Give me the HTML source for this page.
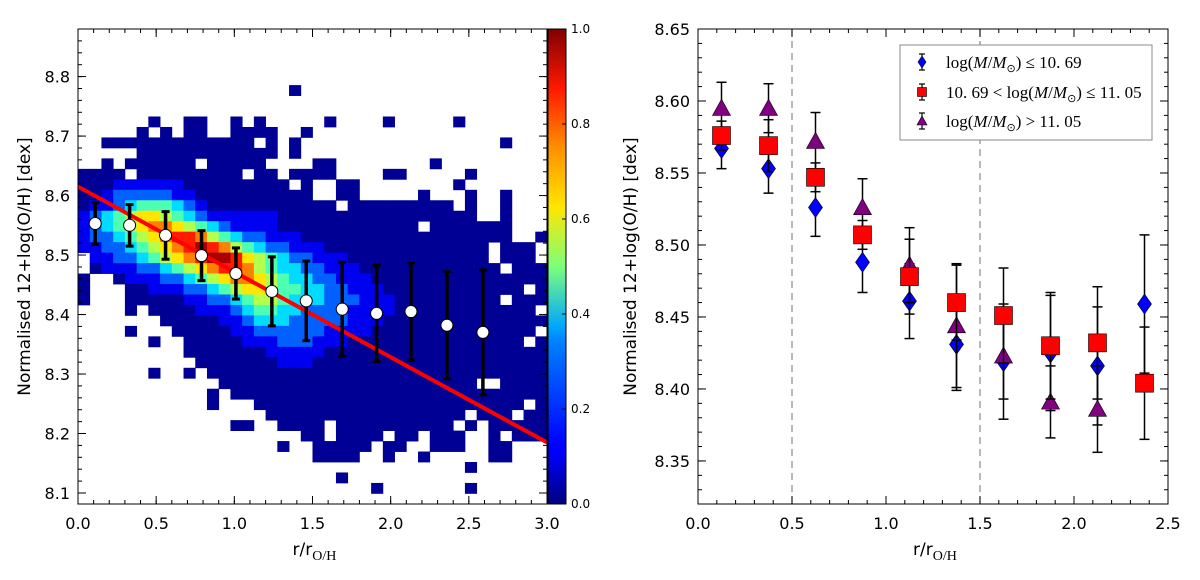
<!DOCTYPE html>
<html><head><meta charset="utf-8">
<style>
html,body{margin:0;padding:0;background:#fff;}
svg{display:block;font-family:"DejaVu Sans","Liberation Sans",sans-serif;}
</style></head>
<body>
<svg id="fig" width="1200" height="580" viewBox="0 0 1200 580" xmlns="http://www.w3.org/2000/svg">
<defs>
<clipPath id="lclip"><rect x="78" y="29" width="469" height="475"/></clipPath>
<clipPath id="rclip"><rect x="698" y="29" width="470" height="475"/></clipPath>
<linearGradient id="jet" x1="0" y1="1" x2="0" y2="0">
<stop offset="0" stop-color="#000080"/><stop offset="0.11" stop-color="#0000ff"/>
<stop offset="0.125" stop-color="#0000ff"/><stop offset="0.34" stop-color="#0080ff"/>
<stop offset="0.375" stop-color="#00a8ff"/><stop offset="0.5" stop-color="#7dff7a"/>
<stop offset="0.625" stop-color="#ffe600"/><stop offset="0.75" stop-color="#ff9000"/>
<stop offset="0.875" stop-color="#ff1800"/><stop offset="1" stop-color="#800000"/>
</linearGradient>
</defs>
<rect x="0" y="0" width="1200" height="580" fill="#fff"/>
<g id="left"></g>
<g id="cbar"></g>
<g id="right"></g>
</svg>
<script>
// ---------- LEFT PANEL DATA ----------
const hmRows = [
"........................................",
"........................................",
"........................................",
"........................................",
"........................................",
"........................................",
"..................0.....................",
"........................................",
"........................................",
"......0..00..0.0.....0....0.....0.......",
".....0.0.00..0000..0....................",
"..0000000000000.0.0.................0...",
".....000000000000.0.....................",
"..0.000000.00000....00........0.........",
"0000.000000000.00.0000....00.....0......",
"000111111000000000.0..00........0.......",
"00122222110000000000..00.....0...0..0...",
"0112344432100000000000.000000000.0..0...",
"1234566543211111100000000000000000..0...",
"12345677654321111000000000000.0000000...",
"1223456788754322111000000000000000000..0",
"11223456789875432211100000000000000.000.",
".1122345678998654322111000000000000.000.",
".01112234567887543322111000000000000.0000",
"0..0111223456776543322111000000000000000",
"0...0011122345665443322111000000000000.00",
"0...00000112234554333222111000000000.000",
"....0.000011123443322221111000000000000.00",
".......0000011233322222111000000000000000",
"....0...0000011222222111100000000000000",
"......0..00000111222111000000000000000.00",
".........0000000111110000000000000000000",
"..........000000011100000000000000000000",
"......0..0.00000000000000000000000000000",
"............0000000000000000000000..0000",
"...........0.000000000000000000000000000",
"...........0...00000000000000000000000.0",
"................00000000000000000.000.00",
".............00..0000.0000000000.0.00000",
"...................00.0000.00.000..0.000",
".................0..00000.00..000..00...",
"....................0000..0..0.....00...",
".................................0......",
"......................0.................",
".........................0.......0......",
"........................................"
];
const hmX0 = 0.0, hmDx = 0.075, hmYTop = 8.8913, hmDy = 0.0176;
const levelVals = [0.02,0.11,0.22,0.34,0.45,0.55,0.65,0.75,0.85,0.96];
const meanX = [0.11,0.33,0.56,0.79,1.01,1.24,1.46,1.69,1.91,2.13,2.36,2.59];
const meanY = [8.553,8.550,8.533,8.499,8.469,8.439,8.423,8.409,8.402,8.405,8.382,8.370];
const meanErr = [0.035,0.035,0.040,0.042,0.043,0.058,0.067,0.079,0.081,0.082,0.090,0.105];
const fitX = [0.0,3.0];
const fitY = [8.615,8.185];
const lxTicks = [0.0,0.5,1.0,1.5,2.0,2.5,3.0];
const lxTickLabels = ["0.0","0.5","1.0","1.5","2.0","2.5","3.0"];
const lyTicks = [8.1,8.2,8.3,8.4,8.5,8.6,8.7,8.8];
const lyTickLabels = ["8.1","8.2","8.3","8.4","8.5","8.6","8.7","8.8"];
const cbTicks = [0.0,0.2,0.4,0.6,0.8,1.0];
const cbTickLabels = ["0.0","0.2","0.4","0.6","0.8","1.0"];

// ---------- RIGHT PANEL DATA ----------
const binX = [0.125,0.375,0.625,0.875,1.125,1.375,1.625,1.875,2.125,2.375];
const lowY = [8.567,8.553,8.526,8.488,8.461,8.431,8.419,8.425,8.416,8.459];
const lowErr = [0.014,0.017,0.020,0.021,0.026,0.032,0.040,0.040,0.041,0.048];
const midY = [8.576,8.569,8.547,8.507,8.478,8.460,8.451,8.430,8.432,8.404];
const midErr = [0.010,0.018,0.010,0.010,0.026,0.026,0.033,0.037,0.039,0.039];
const highX = [0.125,0.375,0.625,0.875,1.125,1.375,1.625,1.875,2.125];
const highY = [8.595,8.595,8.572,8.526,8.486,8.444,8.423,8.391,8.386];
const highErr = [0.018,0.017,0.020,0.020,0.026,0.043,0.030,0.025,0.030];
const vLines = [0.5,1.5];
const rxTicks = [0.0,0.5,1.0,1.5,2.0,2.5];
const rxTickLabels = ["0.0","0.5","1.0","1.5","2.0","2.5"];
const ryTicks = [8.35,8.40,8.45,8.50,8.55,8.60,8.65];
const ryTickLabels = ["8.35","8.40","8.45","8.50","8.55","8.60","8.65"];

const NS = "http://www.w3.org/2000/svg";
function mk(tag, attrs, parent){
  const e = document.createElementNS(NS, tag);
  for (const k in attrs) e.setAttribute(k, attrs[k]);
  parent.appendChild(e); return e;
}
const L = {x0:78, x1:547, y0:29, y1:504, xmin:0, xmax:3, ymin:8.0815, ymax:8.88};
const R = {x0:698, x1:1168, y0:29, y1:504, xmin:0, xmax:2.5, ymin:8.3201, ymax:8.65};
function sx(P,v){return P.x0 + (v-P.xmin)/(P.xmax-P.xmin)*(P.x1-P.x0);}
function sy(P,v){return P.y1 - (v-P.ymin)/(P.ymax-P.ymin)*(P.y1-P.y0);}
function jet(v){
  const c = t => Math.max(0,Math.min(1,t));
  const r=c(1.5-Math.abs(4*v-3)), g=c(1.5-Math.abs(4*v-2)), b=c(1.5-Math.abs(4*v-1));
  return "rgb("+Math.round(r*255)+","+Math.round(g*255)+","+Math.round(b*255)+")";
}
function axes(P, g, xt, xl, yt, yl, xminor, yminor){
  for (let v=P.xmin; v<=P.xmax+1e-9; v+=xminor){
    const x=sx(P,v);
    let t=mk("line",{x1:x,x2:x,y1:P.y1,y2:P.y1-4,stroke:"#000","stroke-width":1},g);
    
    
    mk("line",{x1:x,x2:x,y1:P.y0,y2:P.y0+4,stroke:"#000","stroke-width":1},g);
  }
  for (let v=Math.ceil(P.ymin/yminor-1e-6)*yminor; v<=P.ymax+1e-9; v+=yminor){
    const y=sy(P,v);
    mk("line",{x1:P.x0,x2:P.x0+4,y1:y,y2:y,stroke:"#000","stroke-width":1},g);
    mk("line",{x1:P.x1,x2:P.x1-4,y1:y,y2:y,stroke:"#000","stroke-width":1},g);
  }
  xt.forEach((v,i)=>{
    const x=sx(P,v);
    mk("line",{x1:x,x2:x,y1:P.y1,y2:P.y1-8,stroke:"#000","stroke-width":1},g);
    mk("line",{x1:x,x2:x,y1:P.y0,y2:P.y0+8,stroke:"#000","stroke-width":1},g);
    const t=mk("text",{x:x,y:P.y1+25,"text-anchor":"middle","font-size":16},g);
    t.textContent=xl[i];
    
    
  });
  yt.forEach((v,i)=>{
    const y=sy(P,v);
    mk("line",{x1:P.x0,x2:P.x0+8,y1:y,y2:y,stroke:"#000","stroke-width":1},g);
    mk("line",{x1:P.x1,x2:P.x1-8,y1:y,y2:y,stroke:"#000","stroke-width":1},g);
    const t=mk("text",{x:P.x0-8,y:y+6,"text-anchor":"end","font-size":16},g);
    t.textContent=yl[i];
    
    
  });
  const f=mk("rect",{x:P.x0,y:P.y0,width:P.x1-P.x0,height:P.y1-P.y0,fill:"none",stroke:"#000","stroke-width":1},g);
  
  
}
function labels(P,g,ylx){
  const t=mk("text",{x:(P.x0+P.x1)/2-20,y:555,"font-size":17},g);
  
  
  t.innerHTML='r/r<tspan font-family="Liberation Serif, serif" font-size="14" dy="5">O/H</tspan>';
  const yt=mk("text",{x:ylx,y:(P.y0+P.y1)/2,"font-size":17,"text-anchor":"middle",transform:"rotate(-90 "+ylx+" "+((P.y0+P.y1)/2)+")"},g);
  yt.textContent="Normalised 12+log(O/H) [dex]";
  
  
}

// ---------- draw left ----------
const lg = document.getElementById("left");
const hg = mk("g",{"clip-path":"url(#lclip)"},lg);


const cw = sx(L,hmDx)-sx(L,0), ch = sy(L,8.5-hmDy)-sy(L,8.5);
hmRows.forEach((row,r)=>{
  for (let c=0;c<40 && c<row.length;c++){
    const ch0=row[c]; if(ch0==='.') continue;
    const v=levelVals[+ch0];
    const x=sx(L,hmX0+c*hmDx), y=sy(L,hmYTop-r*hmDy);
    const cell=mk("rect",{x:x,y:y,width:cw+0.4,height:ch+0.4,fill:jet(v)},hg);
    
    
  }
});
const fl=mk("line",{x1:sx(L,fitX[0]),y1:sy(L,fitY[0]),x2:sx(L,fitX[1]),y2:sy(L,fitY[1]),stroke:"#ff0000","stroke-width":4},hg);


meanX.forEach((xv,i)=>{
  const x=sx(L,xv), yt=sy(L,meanY[i]+meanErr[i]), yb=sy(L,meanY[i]-meanErr[i]);
  const eb=mk("g",{},hg);
  
  
  mk("line",{x1:x,x2:x,y1:yt,y2:yb,stroke:"#000","stroke-width":3.5},eb);
  mk("line",{x1:x-4,x2:x+4,y1:yt,y2:yt,stroke:"#000","stroke-width":3},eb);
  mk("line",{x1:x-4,x2:x+4,y1:yb,y2:yb,stroke:"#000","stroke-width":3},eb);
  const p=mk("circle",{cx:x,cy:sy(L,meanY[i]),r:6,fill:"#fff",stroke:"#000","stroke-width":1},hg);
  
  
});
axes(L,lg,lxTicks,lxTickLabels,lyTicks,lyTickLabels,0.1,0.02);
labels(L,lg,30);

// colorbar
const cg=document.getElementById("cbar");
const cbx=548, cbw=18;
const cb=mk("rect",{x:cbx,y:L.y0,width:cbw,height:L.y1-L.y0,fill:"url(#jet)",stroke:"#000","stroke-width":1},cg);


cbTicks.forEach((v,i)=>{
  const y=L.y1-v*(L.y1-L.y0);
  mk("line",{x1:cbx+cbw-4,x2:cbx+cbw,y1:y,y2:y,stroke:"#000","stroke-width":1},cg);
  const t=mk("text",{x:cbx+cbw+5,y:y+4,"font-size":12},cg);
  t.textContent=cbTickLabels[i];
  
  
});

// ---------- draw right ----------
const rg=document.getElementById("right");
const pg=mk("g",{"clip-path":"url(#rclip)"},rg);
vLines.forEach(v=>{
  const l=mk("line",{x1:sx(R,v),x2:sx(R,v),y1:R.y0,y2:R.y1,stroke:"#888","stroke-width":1.2,"stroke-dasharray":"7,5"},pg);
  
  
});
function errbar(g,x,yv,e){
  const yt=sy(R,yv+e), yb=sy(R,yv-e);
  mk("line",{x1:x,x2:x,y1:yt,y2:yb,stroke:"#000","stroke-width":1.5},g);
  mk("line",{x1:x-5,x2:x+5,y1:yt,y2:yt,stroke:"#000","stroke-width":1.5},g);
  mk("line",{x1:x-5,x2:x+5,y1:yb,y2:yb,stroke:"#000","stroke-width":1.5},g);
}
function diamond(g,x,y,w,h){return mk("polygon",{points:`${x},${y-h} ${x+w},${y} ${x},${y+h} ${x-w},${y}`,fill:"#0000ff",stroke:"#000","stroke-width":0.6},g);}
function square(g,x,y,s){return mk("rect",{x:x-s,y:y-s,width:2*s,height:2*s,fill:"#ff0000",stroke:"#000","stroke-width":0.6},g);}
function tri(g,x,y,s){return mk("polygon",{points:`${x},${y-s} ${x+s},${y+s*0.8} ${x-s},${y+s*0.8}`,fill:"#800080",stroke:"#000","stroke-width":0.6},g);}
const sLow=mk("g",{},pg);


binX.forEach((xv,i)=>{ errbar(sLow,sx(R,xv),lowY[i],lowErr[i]); });
binX.forEach((xv,i)=>{ const m=diamond(sLow,sx(R,xv),sy(R,lowY[i]),7,10);
  
   });
const sHigh=mk("g",{},pg);


highX.forEach((xv,i)=>{ errbar(sHigh,sx(R,xv),highY[i],highErr[i]); });
highX.forEach((xv,i)=>{ const m=tri(sHigh,sx(R,xv),sy(R,highY[i]),9);
  
   });
const sMid=mk("g",{},pg);


binX.forEach((xv,i)=>{ errbar(sMid,sx(R,xv),midY[i],midErr[i]); });
binX.forEach((xv,i)=>{ const m=square(sMid,sx(R,xv),sy(R,midY[i]),9);
  
   });

axes(R,rg,rxTicks,rxTickLabels,ryTicks,ryTickLabels,0.1,0.01);
labels(R,rg,636);

// legend
const leg=mk("g",{},rg);


mk("rect",{x:900,y:45,width:252,height:95,fill:"#fff",stroke:"#888","stroke-width":1},leg);
const legY=[62,92,121];
const legTexts=[
 'log(<tspan font-style="italic">M</tspan>/<tspan font-style="italic">M</tspan><tspan font-size="11" dy="4">⊙</tspan><tspan dy="-4">) ≤ 10. 69</tspan>',
 '10. 69 &lt; log(<tspan font-style="italic">M</tspan>/<tspan font-style="italic">M</tspan><tspan font-size="11" dy="4">⊙</tspan><tspan dy="-4">) ≤ 11. 05</tspan>',
 'log(<tspan font-style="italic">M</tspan>/<tspan font-style="italic">M</tspan><tspan font-size="11" dy="4">⊙</tspan><tspan dy="-4">) &gt; 11. 05</tspan>'
];
legY.forEach((y,i)=>{
  const e=mk("g",{},leg);
  
  
  mk("line",{x1:922,x2:922,y1:y-8,y2:y+8,stroke:"#000","stroke-width":1.2},e);
  mk("line",{x1:919,x2:925,y1:y-8,y2:y-8,stroke:"#000","stroke-width":1.2},e);
  mk("line",{x1:919,x2:925,y1:y+8,y2:y+8,stroke:"#000","stroke-width":1.2},e);
  if(i===0) diamond(e,922,y,4,6);
  if(i===1) square(e,922,y,4.5);
  if(i===2) tri(e,922,y,5);
  const t=mk("text",{x:946,y:y+6,"font-size":17,"font-family":"Liberation Serif, serif"},e);
  t.innerHTML=legTexts[i];
});
</script>
</body></html>
